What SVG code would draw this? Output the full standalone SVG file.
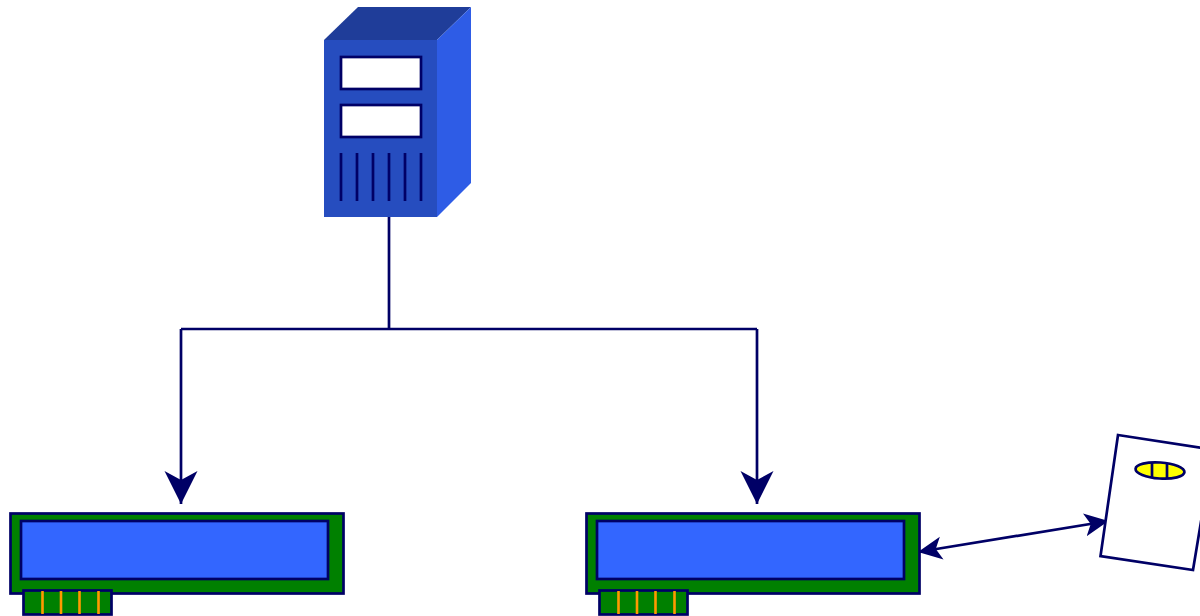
<svg xmlns="http://www.w3.org/2000/svg" width="1200" height="616" viewBox="0 0 1200 616">
<style>
.ln{fill:none;stroke:#000066;stroke-width:2.7}
.box{stroke:#000066;stroke-width:2.7}
.green{fill:#008000}
.blue{fill:#3366ff}
.pin{fill:none;stroke:#ff9900;stroke-width:2.6}
.win{fill:#ffffff;stroke:#000066;stroke-width:2.7}
</style>
<defs>
<marker id="big" markerUnits="userSpaceOnUse" markerWidth="36" markerHeight="36" refX="33" refY="18" orient="auto"><path d="M0 1.500L33 18L0 34.500L9 18Z" fill="#000066"/></marker>
<marker id="small" markerUnits="userSpaceOnUse" markerWidth="26" markerHeight="26" refX="24" refY="13" orient="auto-start-reverse"><path d="M0 1.500L24 13L0 24.500L6 13Z" fill="#000066"/></marker>
<g id="cardshape">
<rect class="box green" x="10.500" y="513.500" width="333" height="80"/>
<rect class="box blue" x="21" y="521" width="307" height="58"/>
<rect class="box green" x="23.500" y="590.500" width="88" height="24"/>
<path class="pin" d="M42.500 591V614M61 591V614M79.500 591V614M98.500 591V614"/>
</g>
</defs>
<g id="server">
<path d="M324 40L358 7H471L437 40Z" fill="#1f3d99"/>
<path d="M437 40L471 7V183L437 217Z" fill="#2e5ce6"/>
<rect x="324" y="40" width="113" height="177" fill="#264dbf"/>
<rect class="win" x="341" y="57" width="80" height="32"/>
<rect class="win" x="341" y="105" width="80" height="32"/>
<path class="ln" d="M341 153V201M357 153V201M373 153V201M389 153V201M405 153V201M421 153V201"/>
</g>
<g id="connectors">
<path class="ln" d="M389 217V329"/>
<path class="ln" d="M181 329H757"/>
<path class="ln" d="M181 329V504" marker-end="url(#big)"/>
<path class="ln" d="M757 329V504" marker-end="url(#big)"/>
<path class="ln" d="M918 552L1108.500 521" marker-start="url(#small)" marker-end="url(#small)"/>
</g>
<g id="reader-left"><use href="#cardshape"/></g>
<g id="reader-right"><use href="#cardshape" x="576"/></g>
<g id="smartcard">
<path d="M1118 435L1213 449.500L1193 570L1100.500 556Z" fill="#ffffff" stroke="#000066" stroke-width="2.700"/>
<ellipse cx="1160" cy="470.500" rx="24.500" ry="8" transform="rotate(4 1160 470.500)" fill="#ffff00" stroke="#000066" stroke-width="2.700"/>
<path class="ln" d="M1152 463V478M1167 463V478"/>
</g>
</svg>
